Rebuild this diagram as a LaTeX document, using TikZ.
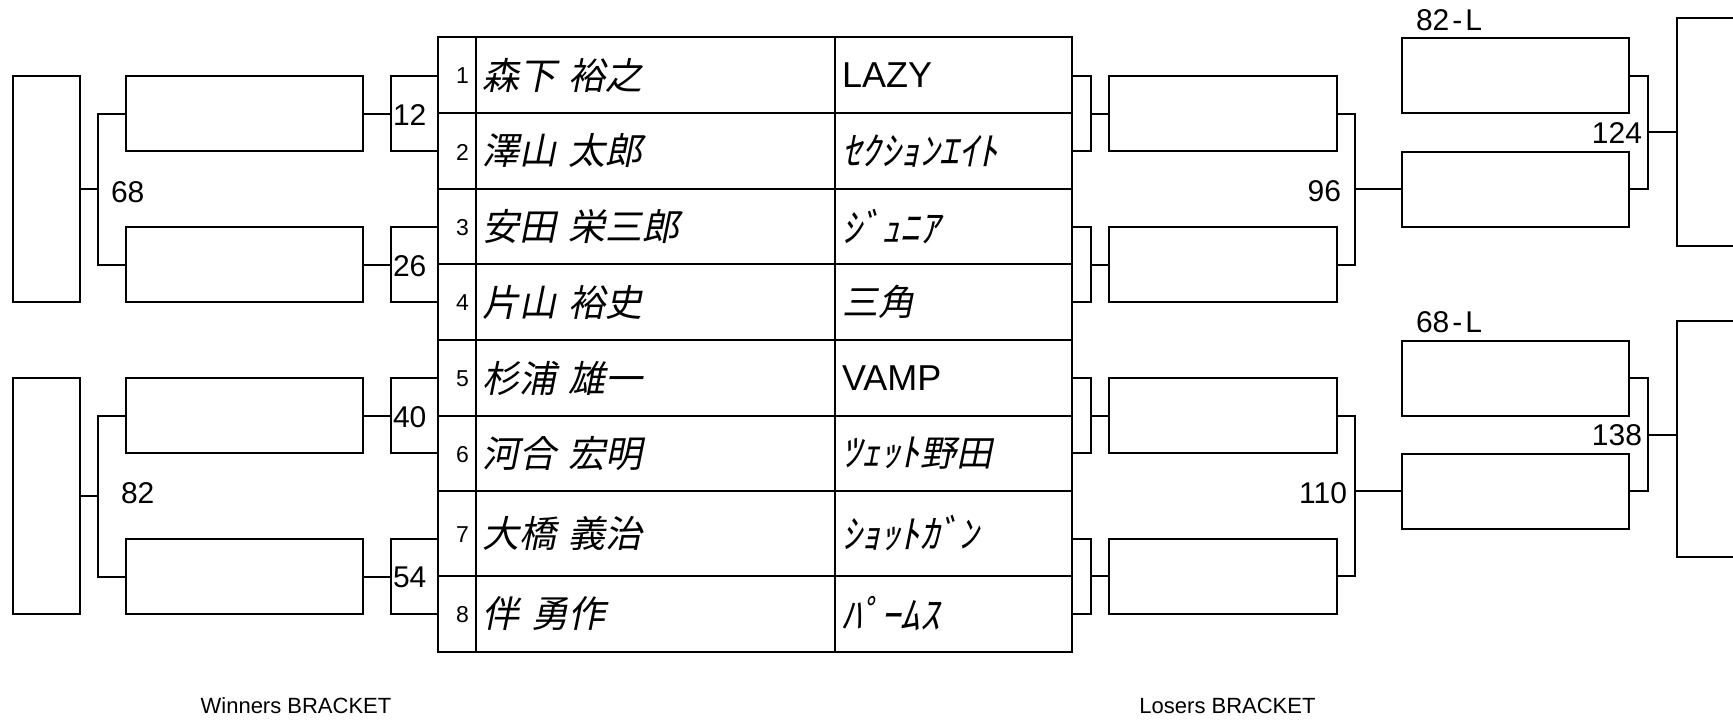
\documentclass[tikz,border=0pt]{standalone}
\usepackage{fontspec}
\setmainfont{Liberation Sans}
\newfontfamily\jpfont[FakeSlant=0.2]{Noto Sans CJK JP}
\newcommand\hk[1]{{\jpfont\fontsize{39}{42}\selectfont #1}}
\begin{document}
\begin{tikzpicture}[x=1pt,y=-1pt,line width=2pt,line join=miter,
  box/.style={draw,rectangle,inner sep=0pt,outer sep=0pt},
  rbox/.style={box,minimum width=237pt,minimum height=75pt},
  lbox/.style={box,minimum width=227.5pt,minimum height=75pt},
  mbox/.style={box,minimum width=227pt,minimum height=75pt},
  cell/.style={box},
  num/.style={inner sep=0pt,font=\fontsize{30}{32}\selectfont},
  rownum/.style={inner sep=0pt,anchor=east,font=\fontsize{23}{25}\selectfont},
  pname/.style={inner sep=0pt,anchor=west,font=\jpfont\fontsize{37}{40}\selectfont},
  team/.style={inner sep=0pt,anchor=west,font=\fontsize{36}{40}\selectfont},
  captxt/.style={inner sep=0pt,font=\fontsize{22}{24}\selectfont}]
\clip (0,0) rectangle (1733,720);
\fill[white] (0,0) rectangle (1733,720);

% ---------- table ----------
\foreach \i/\yc/\h/\nm/\tm in {
  1/75/76/{森下\hspace{4pt} 裕之}/{LAZY},
  2/151/76/{澤山\hspace{4pt} 太郎}/{\hk{ｾｸｼｮﾝｴｲﾄ}},
  3/226.5/75/{安田\hspace{4pt} 栄三郎}/{\hk{ｼﾞｭﾆｱ}},
  4/302/76/{片山\hspace{4pt} 裕史}/{\jpfont 三角},
  5/378/76/{杉浦\hspace{4pt} 雄一}/{VAMP},
  6/453.5/75/{河合\hspace{4pt} 宏明}/{\hk{ﾂｪｯﾄ}\jpfont 野田},
  7/533.5/85/{大橋\hspace{4pt} 義治}/{\hk{ｼｮｯﾄｶﾞﾝ}},
  8/614/76/{伴\hspace{4pt} 勇作}/{\hk{ﾊﾟｰﾑｽ}}}{
  \node[cell,minimum width=37.5pt,minimum height=\h pt] (n\i) at (456.75,\yc) {};
  \node[cell,minimum width=359.5pt,minimum height=\h pt] (a\i) at (655.25,\yc) {};
  \node[cell,minimum width=236.5pt,minimum height=\h pt] (t\i) at (953.25,\yc) {};
  \node[rownum] (nt\i) at (470,\yc+1) {\i};
  \node[pname] (at\i) at (481,\yc) {\nm};
  \node[team] (tt\i) at (841,\yc) {\tm};
}

% ---------- winners bracket ----------
\node[box,minimum width=67pt,minimum height=226pt] (wf1) at (46.5,189) {};
\node[box,minimum width=67pt,minimum height=236pt] (wf2) at (46.5,496) {};
\node[rbox] (w1) at (244.5,113.5) {};
\node[rbox] (w2) at (244.5,264.5) {};
\node[rbox] (w3) at (244.5,415.5) {};
\node[rbox] (w4) at (244.5,576.5) {};

\coordinate (wj1) at (98,189);
\coordinate (wj2) at (98,496);
\draw (w1.west) -| (wj1) |- (w2.west);
\draw (wf1.east) -- (wj1);
\draw (w3.west) -| (wj2) |- (w4.west);
\draw (wf2.east) -- (wj2);

\coordinate (b1) at (391,113.5);
\coordinate (b2) at (391,264.5);
\coordinate (b3) at (391,415.5);
\coordinate (b4) at (391,576.5);
\draw (n1.west |- w1.north) -| (b1) |- (n2.west |- w1.south);
\draw (n3.west |- w2.north) -| (b2) |- (n4.west |- w2.south);
\draw (n5.west |- w3.north) -| (b3) |- (n6.west |- w3.south);
\draw (n7.west |- w4.north) -| (b4) |- (n8.west |- w4.south);
\draw (w1.east) -- (b1);
\draw (w2.east) -- (b2);
\draw (w3.east) -- (b3);
\draw (w4.east) -- (b4);

\node[num,anchor=west] (g12) at (392,115) {12};
\node[num,anchor=west] (g26) at (392,266) {26};
\node[num,anchor=west] (g40) at (392,417) {40};
\node[num,anchor=west] (g54) at (392,577) {54};
\node[num,anchor=west] (g68) at (110,192) {68};
\node[num,anchor=west] (g82) at (120,493) {82};

% ---------- losers bracket ----------
\node[lbox] (l1) at (1222.75,113.5) {};
\node[lbox] (l2) at (1222.75,264.5) {};
\node[lbox] (l3) at (1222.75,415.5) {};
\node[lbox] (l4) at (1222.75,576) {};

\coordinate (c1) at (1090.5,113.5);
\coordinate (c2) at (1090.5,264.5);
\coordinate (c3) at (1090.5,415.5);
\coordinate (c4) at (1090.5,576);
\draw (t1.east |- l1.north) -| (c1) |- (t2.east |- l1.south);
\draw (t3.east |- l2.north) -| (c2) |- (t4.east |- l2.south);
\draw (t5.east |- l3.north) -| (c3) |- (t6.east |- l3.south);
\draw (t7.east |- l4.north) -| (c4) |- (t8.east |- l4.south);
\draw (c1) -- (l1.west);
\draw (c2) -- (l2.west);
\draw (c3) -- (l3.west);
\draw (c4) -- (l4.west);

\node[mbox] (m1) at (1515.5,75.5) {};
\node[mbox] (m2) at (1515.5,189) {};
\node[mbox] (m3) at (1515.5,378) {};
\node[mbox] (m4) at (1515.5,491) {};

\coordinate (d1) at (1355,189);
\coordinate (d2) at (1355,491);
\draw (l1.east) -| (d1) |- (l2.east);
\draw (d1) -- (m2.west);
\draw (l3.east) -| (d2) |- (l4.east);
\draw (d2) -- (m4.west);

\node[box,minimum width=123pt,minimum height=228pt] (f1) at (1738.5,132) {};
\node[box,minimum width=123pt,minimum height=236pt] (f2) at (1738.5,439) {};

\coordinate (e1) at (1648,132.25);
\coordinate (e2) at (1648,434.5);
\draw (m1.east) -| (e1) |- (m2.east);
\draw (e1) -- (e1 -| f1.west);
\draw (m3.east) -| (e2) |- (m4.east);
\draw (e2) -- (e2 -| f2.west);

\node[num,anchor=east] (g96) at (1342,191) {96};
\node[num,anchor=east] (g110) at (1348,493) {110};
\node[num,anchor=east] (g124) at (1643,133) {124};
\node[num,anchor=east] (g138) at (1643,435) {138};
\node[num,anchor=west] (g82L) at (1415,20) {82\kern3pt-\kern3pt L};
\node[num,anchor=west] (g68L) at (1415,322) {68\kern3pt-\kern3pt L};

% ---------- captions ----------
\node[captxt] (capw) at (296,705.5) {Winners BRACKET};
\node[captxt] (capl) at (1227.5,705.5) {Losers BRACKET};
\end{tikzpicture}
\end{document}
